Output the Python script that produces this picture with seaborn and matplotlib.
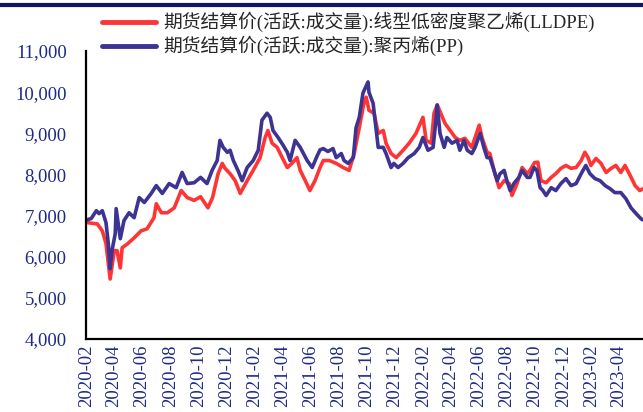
import pandas as pd
import matplotlib.pyplot as plt
import matplotlib.dates as mdates
import matplotlib.ticker as mticker
from matplotlib.lines import Line2D
from matplotlib.font_manager import FontProperties
import seaborn as sns

# Settlement prices of the active futures contracts
series_names = [
    "期货结算价(活跃:成交量):线型低密度聚乙烯(LLDPE)",
    "期货结算价(活跃:成交量):聚丙烯(PP)",
]

lldpe_dates = [
    "2020-02-03", "2020-02-25", "2020-03-07", "2020-03-15", "2020-03-24", "2020-04-02",
    "2020-04-08", "2020-04-15", "2020-04-19", "2020-04-30", "2020-05-15", "2020-05-30",
    "2020-06-12", "2020-06-27", "2020-07-02", "2020-07-13", "2020-07-26", "2020-08-10",
    "2020-08-25", "2020-09-07", "2020-09-22", "2020-10-06", "2020-10-22", "2020-11-01",
    "2020-11-13", "2020-11-22", "2020-11-28", "2020-12-09", "2020-12-20", "2020-12-31",
    "2021-01-15", "2021-01-28", "2021-02-12", "2021-02-23", "2021-03-01", "2021-03-10",
    "2021-03-21", "2021-04-01", "2021-04-12", "2021-04-22", "2021-05-03", "2021-05-10",
    "2021-05-21", "2021-05-31", "2021-06-11", "2021-06-22", "2021-06-29", "2021-07-12",
    "2021-07-27", "2021-08-11", "2021-08-24", "2021-09-04", "2021-09-15", "2021-09-25",
    "2021-09-30", "2021-10-06", "2021-10-17", "2021-10-26", "2021-11-06", "2021-11-12",
    "2021-11-23", "2021-12-04", "2021-12-19", "2022-01-01", "2022-01-16", "2022-01-31",
    "2022-02-07", "2022-02-18", "2022-02-24", "2022-03-03", "2022-03-20", "2022-03-31",
    "2022-04-11", "2022-04-21", "2022-05-02", "2022-05-17", "2022-06-02", "2022-06-08",
    "2022-06-19", "2022-06-25", "2022-07-06", "2022-07-15", "2022-07-26", "2022-08-06",
    "2022-08-12", "2022-08-23", "2022-09-03", "2022-09-14", "2022-09-20", "2022-09-30",
    "2022-10-07", "2022-10-14", "2022-10-25", "2022-11-05", "2022-11-15", "2022-11-26",
    "2022-12-07", "2022-12-18", "2022-12-29", "2023-01-09", "2023-01-17", "2023-01-24",
    "2023-01-30", "2023-02-10", "2023-02-21", "2023-03-04", "2023-03-15", "2023-03-25",
    "2023-04-05", "2023-04-14", "2023-04-25", "2023-05-06", "2023-05-16", "2023-05-22",
]
lldpe_values = [
    6830, 6800, 6630, 6320, 5460, 6150,
    6150, 5730, 6220, 6310, 6460, 6630,
    6680, 6950, 7290, 7070, 7070, 7190,
    7610, 7440, 7370, 7460, 7190, 7440,
    8020, 8270, 8150, 8020, 7850, 7540,
    7850, 8100, 8410, 8900, 9070, 8760,
    8660, 8410, 8170, 8270, 8410, 8100,
    7850, 7610, 7850, 8170, 8340, 8340,
    8270, 8170, 8100, 8510, 9140, 9730,
    9880, 9560, 9490, 9000, 9070, 8760,
    8510, 8410, 8590, 8760, 9000, 9390,
    8830, 8760, 9490, 9690, 9240, 9070,
    8900, 8830, 8880, 8660, 9200, 8900,
    8540, 8510, 8020, 7680, 7850, 7780,
    7490, 7780, 8170, 8020, 8100, 8290,
    8300, 7850, 7800, 7930, 8020, 8150,
    8220, 8150, 8170, 8340, 8540, 8410,
    8220, 8390, 8270, 8050, 8150, 8220,
    8050, 8220, 7980, 7730, 7610, 7650,
]

pp_dates = [
    "2020-02-03", "2020-02-12", "2020-02-23", "2020-02-29", "2020-03-07", "2020-03-15",
    "2020-03-20", "2020-03-24", "2020-03-28", "2020-04-04", "2020-04-06", "2020-04-15",
    "2020-04-23", "2020-05-04", "2020-05-15", "2020-05-26", "2020-06-06", "2020-06-21",
    "2020-07-02", "2020-07-15", "2020-07-30", "2020-08-14", "2020-08-27", "2020-09-07",
    "2020-09-22", "2020-10-06", "2020-10-20", "2020-10-31", "2020-11-11", "2020-11-17",
    "2020-11-24", "2020-12-03", "2020-12-09", "2020-12-16", "2020-12-26", "2021-01-04",
    "2021-01-15", "2021-01-28", "2021-02-08", "2021-02-16", "2021-02-27", "2021-03-06",
    "2021-03-12", "2021-03-23", "2021-04-03", "2021-04-12", "2021-04-18", "2021-04-29",
    "2021-05-10", "2021-05-25", "2021-06-05", "2021-06-16", "2021-06-22", "2021-06-29",
    "2021-07-09", "2021-07-20", "2021-07-27", "2021-08-07", "2021-08-13", "2021-08-22",
    "2021-09-02", "2021-09-08", "2021-09-15", "2021-09-23", "2021-10-04", "2021-10-06",
    "2021-10-15", "2021-10-21", "2021-10-26", "2021-11-06", "2021-11-12", "2021-11-23",
    "2021-11-29", "2021-12-08", "2021-12-19", "2021-12-30", "2022-01-12", "2022-01-23",
    "2022-01-31", "2022-02-11", "2022-02-22", "2022-02-28", "2022-03-03", "2022-03-09",
    "2022-03-18", "2022-03-24", "2022-04-04", "2022-04-15", "2022-04-21", "2022-04-30",
    "2022-05-07", "2022-05-17", "2022-05-24", "2022-06-04", "2022-06-12", "2022-06-19",
    "2022-06-25", "2022-07-04", "2022-07-11", "2022-07-17", "2022-07-26", "2022-08-01",
    "2022-08-08", "2022-08-16", "2022-08-27", "2022-09-03", "2022-09-14", "2022-09-20",
    "2022-09-29", "2022-10-05", "2022-10-12", "2022-10-18", "2022-10-25", "2022-11-05",
    "2022-11-15", "2022-11-26", "2022-12-07", "2022-12-18", "2022-12-29", "2023-01-09",
    "2023-01-19", "2023-01-28", "2023-02-08", "2023-02-19", "2023-03-02", "2023-03-12",
    "2023-03-23", "2023-04-05", "2023-04-16", "2023-04-27", "2023-05-08", "2023-05-19",
    "2023-05-22",
]
pp_values = [
    6900, 6930, 7120, 7050, 7120, 6830,
    6320, 5710, 6150, 6560, 7170, 6440,
    6880, 7070, 6950, 7440, 7320, 7540,
    7730, 7540, 7780, 7680, 8050, 7780,
    7800, 7930, 7780, 8100, 8340, 8830,
    8660, 8540, 8590, 8340, 8100, 7850,
    8170, 8340, 8590, 9320, 9490, 9390,
    9070, 8900, 8710, 8540, 8340, 8830,
    8660, 8340, 8170, 8460, 8600, 8630,
    8560, 8630, 8410, 8510, 8340, 8270,
    8410, 9140, 9390, 9980, 10250, 10000,
    9730, 9140, 8660, 8660, 8510, 8170,
    8270, 8170, 8270, 8410, 8510, 8660,
    8900, 8590, 8660, 9300, 9690, 9000,
    8660, 8900, 8760, 8830, 8590, 8830,
    8590, 8510, 8660, 9000, 8660, 8410,
    8410, 8100, 7850, 8020, 8100, 7850,
    7610, 7780, 7930, 8100, 7930, 7930,
    8170, 8100, 7680, 7610, 7490, 7680,
    7610, 7780, 7900, 7730, 7780, 8020,
    8220, 8020, 7900, 7850, 7730, 7660,
    7560, 7560, 7410, 7190, 7050, 6920,
    6900,
]

y_ticks = [4000, 5000, 6000, 7000, 8000, 9000, 10000, 11000]

RED = "#ff3535"
BLUE = "#3c3393"
NAVY = "#1f2a86"

df = pd.concat([
    pd.DataFrame({"date": pd.to_datetime(lldpe_dates), "price": lldpe_values, "series": series_names[0]}),
    pd.DataFrame({"date": pd.to_datetime(pp_dates), "price": pp_values, "series": series_names[1]}),
])

sns.set_style("white")
plt.rcParams["font.family"] = ["Liberation Serif", "Noto Sans CJK SC"]

fig = plt.figure(figsize=(6.43, 4.12), dpi=100)
ax = fig.add_axes([0.134, 0.177, 0.866, 0.699])

sns.lineplot(data=df, x="date", y="price", hue="series", palette=[RED, BLUE],
             linewidth=2.6, ax=ax, legend=False)

ax.set_xlim(pd.Timestamp("2020-02-01"), pd.Timestamp("2023-05-23"))
ax.set_ylim(4000, 11000)
ax.set_yticks(y_ticks)
ax.yaxis.set_major_formatter(mticker.StrMethodFormatter("{x:,.0f}"))
ax.xaxis.set_major_locator(mdates.MonthLocator(bymonth=[2, 4, 6, 8, 10, 12]))
ax.xaxis.set_major_formatter(mdates.DateFormatter("%Y-%m"))
ax.set_xlabel("")
ax.set_ylabel("")

for side in ["top", "right"]:
    ax.spines[side].set_visible(False)
for side in ["left", "bottom"]:
    ax.spines[side].set_color("black")
    ax.spines[side].set_linewidth(1.6)

ax.tick_params(axis="y", direction="out", length=4, width=1.5, colors="black",
               labelcolor=NAVY, labelsize=13.5, pad=10)
ax.tick_params(axis="x", direction="in", length=5, width=1.5, colors="black",
               labelcolor=NAVY, labelsize=13.5, pad=4, labelrotation=90)

# legend above the plot area
handles = [Line2D([], [], color=RED, linewidth=3.5), Line2D([], [], color=BLUE, linewidth=3.5)]
fig.legend(handles, series_names, loc="upper left", bbox_to_anchor=(0.158, 0.971),
           frameon=False, borderpad=0, borderaxespad=0, handlelength=2.9,
           handletextpad=0.4, labelspacing=0.2,
           prop=FontProperties(family=["Liberation Serif", "Noto Sans CJK SC"], size=13.5))

# dark rule along the top edge
fig.add_artist(Line2D([0, 1], [0.988, 0.988], transform=fig.transFigure, color="#12126e", linewidth=3))

fig.savefig("out.png", dpi=100)
